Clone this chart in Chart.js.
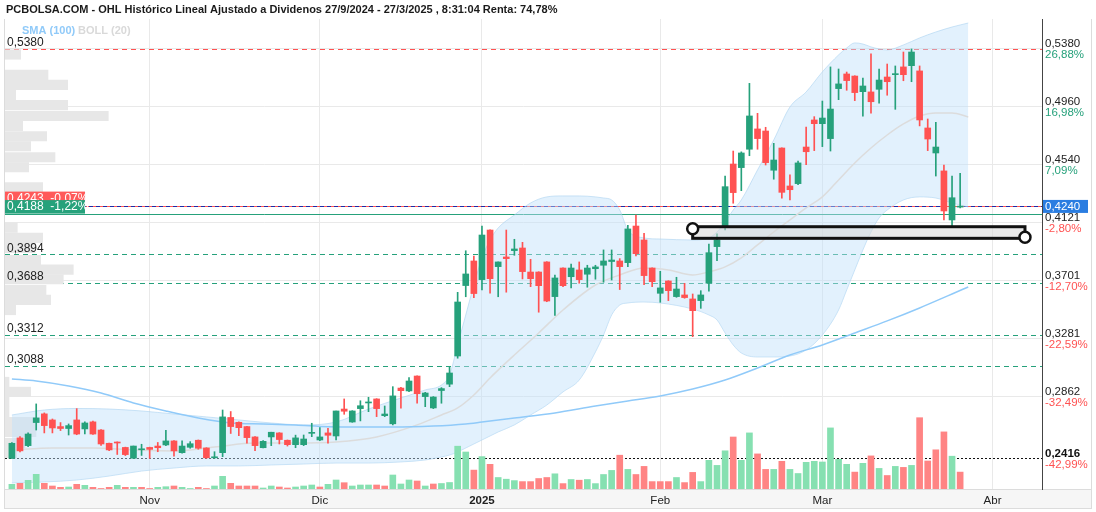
<!DOCTYPE html>
<html>
<head>
<meta charset="utf-8">
<title>OHL - PCBOLSA</title>
<script src="https://cdn.jsdelivr.net/npm/chart.js@4.4.1/dist/chart.umd.min.js"></script>
<style>
  html, body { margin: 0; padding: 0; background: #fff; }
  #wrap { width: 1096px; height: 512px; }
</style>
</head>
<body>
<div id="wrap"><canvas id="ohlChart" width="1096" height="512"></canvas></div>
<script>
// DATA (index 0 = primera sesion visible, 117 = 26/3/2025)
const opens = [0.2416,0.2564,0.2508,0.2675,0.2738,0.2694,0.2646,0.2632,0.2694,0.2629,
  0.2680,0.2621,0.2525,0.2532,0.2495,0.2417,0.2478,0.2495,0.2505,0.2513,
  0.2542,0.2457,0.2496,0.2547,0.2491,0.2420,0.2457,0.2712,0.2677,0.2646,
  0.2571,0.2493,0.2571,0.2600,0.2547,0.2515,0.2515,0.2597,0.2549,0.2600,
  0.2578,0.2773,0.2679,0.2776,0.2817,0.2846,0.2725,0.2666,0.2925,0.2904,
  0.3012,0.2863,0.2781,0.2907,0.2953,0.3157,0.3667,0.3845,0.3710,0.4069,
  0.3804,0.3874,0.3920,0.3939,0.3765,0.3765,0.3838,0.3587,0.3794,0.3731,
  0.3780,0.3749,0.3789,0.3814,0.3841,0.3845,0.3833,0.4098,0.3997,0.3794,
  0.3611,0.3700,0.3587,0.3599,0.3570,0.3558,0.3684,0.3949,0.4098,0.4547,
  0.4521,0.4654,0.4801,0.4786,0.4502,0.4663,0.4388,0.4405,0.4670,0.4866,
  0.4839,0.4731,0.5093,0.5199,0.5184,0.5071,0.5069,0.5088,0.5177,0.5194,
  0.5250,0.5259,0.5221,0.4808,0.4627,0.4497,0.4142,0.4235];
const highs = [0.2530,0.2573,0.2601,0.2810,0.2745,0.2701,0.2675,0.2665,0.2776,0.2680,
  0.2685,0.2625,0.2527,0.2535,0.2497,0.2505,0.2518,0.2497,0.2531,0.2619,
  0.2544,0.2542,0.2537,0.2549,0.2493,0.2464,0.2766,0.2755,0.2680,0.2648,
  0.2573,0.2544,0.2605,0.2602,0.2549,0.2584,0.2585,0.2670,0.2638,0.2634,
  0.2759,0.2846,0.2761,0.2833,0.2858,0.2848,0.2795,0.2935,0.2931,0.3000,
  0.3014,0.2894,0.2863,0.2928,0.3075,0.3618,0.3919,0.3881,0.4098,0.4071,
  0.3838,0.4069,0.4002,0.3980,0.3857,0.3767,0.3840,0.3742,0.3796,0.3823,
  0.3838,0.3814,0.3814,0.3925,0.3925,0.3862,0.4103,0.4178,0.4045,0.3796,
  0.3770,0.3702,0.3727,0.3683,0.3606,0.3630,0.3968,0.4041,0.4460,0.4641,
  0.4635,0.5131,0.4914,0.4813,0.4697,0.4665,0.4468,0.4569,0.4815,0.4890,
  0.5003,0.5250,0.5235,0.5213,0.5186,0.5170,0.5344,0.5235,0.5271,0.5257,
  0.5358,0.5380,0.5257,0.4873,0.4849,0.4540,0.4460,0.4479];
const lows = [0.2416,0.2462,0.2501,0.2621,0.2600,0.2600,0.2617,0.2585,0.2587,0.2592,
  0.2590,0.2510,0.2472,0.2444,0.2436,0.2416,0.2437,0.2416,0.2464,0.2508,
  0.2431,0.2453,0.2489,0.2482,0.2416,0.2416,0.2428,0.2596,0.2580,0.2525,
  0.2472,0.2491,0.2508,0.2520,0.2505,0.2493,0.2508,0.2573,0.2544,0.2525,
  0.2549,0.2735,0.2677,0.2687,0.2754,0.2718,0.2718,0.2658,0.2779,0.2898,
  0.2815,0.2790,0.2776,0.2815,0.2935,0.3141,0.3586,0.3580,0.3635,0.3611,
  0.3586,0.3619,0.3886,0.3715,0.3659,0.3474,0.3550,0.3450,0.3659,0.3650,
  0.3684,0.3655,0.3713,0.3691,0.3707,0.3638,0.3804,0.3881,0.3674,0.3659,
  0.3546,0.3558,0.3582,0.3575,0.3297,0.3502,0.3627,0.3847,0.4069,0.4263,
  0.4354,0.4607,0.4654,0.4540,0.4437,0.4299,0.4287,0.4398,0.4542,0.4644,
  0.4673,0.4641,0.5013,0.5081,0.5006,0.4893,0.4915,0.4987,0.5045,0.4943,
  0.5150,0.5143,0.4823,0.4644,0.4460,0.4142,0.4094,0.4230];
const closes = [0.2525,0.2470,0.2592,0.2709,0.2653,0.2636,0.2632,0.2653,0.2592,0.2672,
  0.2592,0.2520,0.2477,0.2527,0.2443,0.2505,0.2485,0.2481,0.2493,0.2542,
  0.2470,0.2505,0.2522,0.2489,0.2420,0.2424,0.2716,0.2646,0.2638,0.2566,
  0.2508,0.2539,0.2605,0.2552,0.2515,0.2564,0.2556,0.2602,0.2571,0.2583,
  0.2759,0.2757,0.2759,0.2797,0.2822,0.2776,0.2737,0.2868,0.2906,0.2976,
  0.2884,0.2889,0.2860,0.2921,0.3034,0.3548,0.3751,0.3609,0.4033,0.3717,
  0.3838,0.3862,0.3932,0.3768,0.3717,0.3666,0.3555,0.3722,0.3666,0.3794,
  0.3710,0.3794,0.3802,0.3845,0.3852,0.3804,0.4077,0.3898,0.3739,0.3695,
  0.3650,0.3630,0.3642,0.3580,0.3485,0.3599,0.3905,0.3997,0.4383,0.4340,
  0.4627,0.4895,0.4731,0.4557,0.4576,0.4342,0.4361,0.4555,0.4636,0.4839,
  0.4880,0.4945,0.5127,0.5151,0.5064,0.5112,0.4998,0.5155,0.5143,0.5197,
  0.5194,0.5358,0.4866,0.4728,0.4670,0.4207,0.4303,0.4240];
// volumen en miles de acciones
const volumes = [470,570,870,1470,570,300,170,200,470,370,
  170,50,170,370,170,170,170,50,170,230,
  300,170,50,170,50,300,1270,570,300,300,
  300,100,300,200,100,200,300,400,200,470,
  900,630,300,400,400,400,300,1400,500,900,
  800,300,500,550,650,4280,3700,1890,3240,2470,
  1150,980,840,740,740,1050,1150,1520,540,950,
  880,950,540,1450,1860,3380,1960,1450,2260,740,
  740,740,1150,640,1660,740,2870,2360,3820,5200,
  2870,5610,3510,1960,1960,2770,1960,1550,2670,2770,
  2700,6110,2970,2470,1690,2570,3310,2060,1350,2260,
  2160,2360,7130,2800,3920,5710,3280,1690];
const volUp = [1,0,1,1,0,0,0,1,0,1, 0,0,0,1,0,1,0,0,1,1,
  0,1,1,0,0,1,1,0,0,0, 0,1,1,0,0,1,1,1,0,1,
  1,0,1,1,1,0,0,1,1,1, 0,1,0,1,1,1,1,0,1,0,
  1,1,1,0,0,0,0,1,0,1, 0,1,1,1,1,0,1,0,0,0,
  0,0,1,0,0,1,1,1,1,0, 1,1,0,0,1,0,1,1,1,1,
  1,1,1,1,0,1,0,1,0,1, 0,1,0,0,0,0,1,0];

// BOLL (20)
const bandX = [0,4,8,12,16,20,24,28,32,36,40,44,48,51,53,54,55,56,57,58,59,60,62,64,66,68,70,72,73,74,75,76,78,80,84,86,87,88,89,90,92,94,96,98,100,102,103,104,105,106,107,108,110,112,114,116,118];
const bandUpper = [0.2730,0.2766,0.2777,0.2773,0.2759,0.2737,0.2716,0.2694,0.2672,0.2658,0.2679,0.2773,0.2853,0.2911,0.2947,0.3020,0.3237,0.3454,0.3671,0.3867,0.3997,0.4084,0.4178,0.4265,0.4309,0.4316,0.4316,0.4309,0.4301,0.4287,0.4214,0.4070,0.4012,0.4004,0.3997,0.4012,0.4055,0.4128,0.4214,0.4287,0.4504,0.4721,0.4960,0.5069,0.5214,0.5337,0.5387,0.5424,0.5416,0.5395,0.5380,0.5373,0.5409,0.5460,0.5503,0.5539,0.5568];
const bandLower = [0.2238,0.2245,0.2259,0.2288,0.2324,0.2346,0.2361,0.2361,0.2368,0.2375,0.2382,0.2382,0.2390,0.2404,0.2426,0.2440,0.2462,0.2491,0.2520,0.2549,0.2578,0.2607,0.2658,0.2730,0.2802,0.2897,0.2983,0.3186,0.3309,0.3454,0.3526,0.3541,0.3548,0.3541,0.3497,0.3454,0.3418,0.3324,0.3237,0.3179,0.3150,0.3150,0.3157,0.3201,0.3309,0.3490,0.3635,0.3780,0.3925,0.4055,0.4157,0.4214,0.4287,0.4309,0.4301,0.4265,0.4236];
const midX = [0,5,10,15,20,25,30,35,40,45,50,53,55,57,59,62,65,68,72,75,78,81,84,86,88,90,92,94,96,98,100,102,104,106,108,110,112,114,116,118];
const bandMid = [0.2477,0.2491,0.2491,0.2477,0.2469,0.2498,0.2527,0.2527,0.2535,0.2571,0.2658,0.2730,0.2781,0.2875,0.2998,0.3164,0.3324,0.3490,0.3671,0.3744,0.3794,0.3780,0.3744,0.3766,0.3802,0.3867,0.3961,0.4055,0.4142,0.4229,0.4309,0.4432,0.4555,0.4663,0.4757,0.4837,0.4895,0.4917,0.4917,0.4888];

// SMA (100)
const smaX = [0,3,7,11,15,19,23,27,31,35,39,43,47,52,56,58,62,67,72,76,80,84,88,92,96,100,104,108,112,116,118];
const sma100 = [0.2991,0.2976,0.2940,0.2889,0.2817,0.2759,0.2708,0.2672,0.2665,0.2658,0.2645,0.2643,0.2643,0.2650,0.2665,0.2679,0.2708,0.2745,0.2795,0.2831,0.2868,0.2918,0.2983,0.3070,0.3164,0.3237,0.3324,0.3411,0.3505,0.3606,0.3657];

// volumen por precio (perfil de la izquierda)
const profPrice = [0.5340,0.5192,0.5120,0.5047,0.4973,0.4895,0.4823,0.4748,0.4676,0.4596,0.4524,0.4379,0.4306,0.4233,0.4086,0.4012,0.3939,0.3852,0.3782,0.3713,0.3635,0.3563,0.3490,0.2969,0.2897,0.2824,0.2752,0.2679,0.2607,0.2527,0.2455];
const profVol = [157,430,627,107,627,1033,177,417,257,500,237,377,800,600,123,377,300,357,683,583,410,457,107,40,257,40,40,310,310,200,117];

// ejes y niveles
const monthIdx = [17, 38, 58, 80, 100, 121];
const monthLabels = ['Nov', 'Dic', '2025', 'Feb', 'Mar', 'Abr'];
const priceTicks = [0.5380, 0.4960, 0.4540, 0.4121, 0.3701, 0.3281, 0.2862];
const priceTickPct = ['26,88%', '16,98%', '7,09%', '-2,80%', '-12,70%', '-22,59%', '-32,49%'];
const minPrice = 0.2416, minPct = '-42,99%';
const maxLevel = 0.5380;
const levelPrices = [0.3894, 0.3688, 0.3312, 0.3088];
const lastPrice = 0.4240;
const prevClose = 0.4243, prevPct = '-0,07%';
const openPrice = 0.4188, openPct = '-1,22%';
const boxIdx = [84.0, 125.0];
const boxPrice = [0.4093, 0.4009];

const titleText = 'PCBOLSA.COM - OHL Histórico Lineal Ajustado a Dividenos 27/9/2024 - 27/3/2025 , 8:31:04 Renta: 74,78%';

const GREEN = '#26a17b';
const RED = '#ff5252';
const FONT = "'Liberation Sans', Arial, sans-serif";

const candleCol = opens.map((o, i) => closes[i] >= o ? GREEN : RED);

// OVERLAY PLUGIN
const overlay = {
    id: 'overlay',
    beforeDraw(chart) {
        const { ctx, chartArea: a } = chart;
        ctx.save();
        ctx.fillStyle = '#fff';
        ctx.fillRect(0, 0, chart.width, chart.height);
        // barra del eje x
        ctx.fillStyle = '#f6f6f6';
        ctx.fillRect(a.left, a.bottom, 1087, 19);
        ctx.strokeStyle = '#dcdcdc';
        ctx.lineWidth = 1;
        ctx.strokeRect(a.left - 0.5, a.bottom + 0.5, 1087, 19);
        ctx.beginPath();
        ctx.moveTo(a.left - 0.5, a.top);
        ctx.lineTo(a.left - 0.5, a.bottom);
        ctx.moveTo(1091.5, a.top);
        ctx.lineTo(1091.5, a.bottom);
        ctx.stroke();
        ctx.restore();
    },
    beforeDatasetsDraw(chart) {
        const { ctx, chartArea: a, scales } = chart;
        const py = v => scales.y.getPixelForValue(v);
        hline(ctx, a, py(maxLevel), RED, [5, 4]);
        levelPrices.forEach(p => hline(ctx, a, py(p), GREEN, [5, 4]));
        hline(ctx, a, py(minPrice), '#111', [2, 2]);
        hline(ctx, a, py(prevClose), RED, []);
        hline(ctx, a, py(lastPrice), '#1c2ca8', [4, 3]);
        hline(ctx, a, py(openPrice), GREEN, []);
    },
    afterDraw(chart) {
        const { ctx, chartArea: a, scales } = chart;
        const py = v => scales.y.getPixelForValue(v);
        const px = v => scales.x.getPixelForValue(v);
        ctx.save();
        ctx.textBaseline = 'middle';

        // titulo
        ctx.font = `bold 11px ${FONT}`;
        ctx.fillStyle = '#1a1a1a';
        ctx.fillText(titleText, 6, 10);

        // leyenda
        ctx.font = `bold 11px ${FONT}`;
        ctx.fillStyle = '#90caf9';
        ctx.fillText('SMA (100)', 22, 31);
        ctx.fillStyle = '#d9d9d9';
        ctx.fillText('BOLL (20)', 78, 31);

        // etiquetas de niveles a la izquierda
        ctx.font = `12px ${FONT}`;
        ctx.fillStyle = '#222';
        [maxLevel].concat(levelPrices).forEach(p => {
            ctx.fillText(fmt(p), a.left + 2, py(p) - 6);
        });

        // cajas de ultimo cierre / apertura
        const yg = py(openPrice);
        ctx.fillStyle = '#ff5a5a';
        ctx.fillRect(a.left, yg - 22, 80, 13.5);
        ctx.fillStyle = '#fff';
        ctx.fillText(fmt(prevClose) + '  ' + prevPct, a.left + 2, yg - 14.5);
        ctx.fillStyle = GREEN;
        ctx.fillRect(a.left, yg - 13.5, 80, 13.5);
        ctx.fillStyle = '#fff';
        ctx.fillText(fmt(openPrice) + '  ' + openPct, a.left + 2, yg - 6.5);

        // eje derecho: precio + porcentaje
        const rx = a.right + 3;
        ctx.font = `11.5px ${FONT}`;
        priceTicks.forEach((p, i) => {
            const y = py(p);
            ctx.fillStyle = '#222';
            ctx.fillText(fmt(p), rx, y - 5);
            ctx.fillStyle = priceTickPct[i].charAt(0) === '-' ? RED : GREEN;
            ctx.fillText(priceTickPct[i], rx, y + 6);
        });
        const ym = py(minPrice);
        ctx.font = `bold 11.5px ${FONT}`;
        ctx.fillStyle = '#111';
        ctx.fillText(fmt(minPrice), rx, ym - 5);
        ctx.font = `11.5px ${FONT}`;
        ctx.fillStyle = RED;
        ctx.fillText(minPct, rx, ym + 6);

        // ultimo precio
        const yl = py(lastPrice);
        ctx.fillStyle = '#2a7de1';
        ctx.fillRect(a.right + 1, yl - 6.5, 45, 13);
        ctx.fillStyle = '#fff';
        ctx.fillText(fmt(lastPrice), rx, yl + 0.5);

        // rectangulo dibujado
        const x0 = px(boxIdx[0]), x1 = px(boxIdx[1]);
        const y0 = py(boxPrice[0]), y1 = py(boxPrice[1]);
        ctx.fillStyle = 'rgba(215,215,215,0.55)';
        ctx.fillRect(x0, y0, x1 - x0, y1 - y0);
        ctx.strokeStyle = '#111';
        ctx.lineWidth = 3;
        ctx.strokeRect(x0, y0, x1 - x0, y1 - y0);
        [[x0, y0 + 2], [x1, y1 - 1]].forEach(c => {
            ctx.beginPath();
            ctx.arc(c[0], c[1], 5.5, 0, Math.PI * 2);
            ctx.fillStyle = '#fff';
            ctx.fill();
            ctx.lineWidth = 2.5;
            ctx.stroke();
        });
        ctx.restore();
    }
};

const logConfig = {
    type: 'bar',
    data: {
        datasets: [
            {
                label: 'Cuerpo',
                data: opens.map((o, i) => ({ x: i, y: [o, closes[i]] })),
                backgroundColor: candleCol,
                grouped: false, barPercentage: 1, categoryPercentage: 1,
                maxBarThickness: 6, minBarLength: 1,
                xAxisID: 'x', yAxisID: 'y', order: 0
            },
            {
                label: 'Mecha',
                data: lows.map((l, i) => ({ x: i, y: [l, highs[i]] })),
                backgroundColor: candleCol,
                grouped: false, barPercentage: 1, categoryPercentage: 1,
                maxBarThickness: 1,
                xAxisID: 'x', yAxisID: 'y', order: 1
            },
            {
                type: 'line',
                label: 'SMA (100)',
                data: smaX.map((x, i) => ({ x: x, y: sma100[i] })),
                borderColor: '#90caf9', borderWidth: 1.5,
                pointRadius: 0, cubicInterpolationMode: 'monotone',
                xAxisID: 'x', yAxisID: 'y', order: 2
            },
            {
                type: 'line',
                label: 'BOLL media',
                data: midX.map((x, i) => ({ x: x, y: bandMid[i] })),
                borderColor: '#dcdcdc', borderWidth: 1.5,
                pointRadius: 0, cubicInterpolationMode: 'monotone',
                xAxisID: 'x', yAxisID: 'y', order: 3
            },
            {
                label: 'Volumen',
                data: volumes.map((v, i) => ({ x: i, y: v })),
                backgroundColor: volUp.map(u => u ? '#86e0b1' : '#ff8484'),
                grouped: false, barPercentage: 1, categoryPercentage: 1,
                maxBarThickness: 6,
                xAxisID: 'x', yAxisID: 'yv', order: 4
            },
            {
                type: 'line',
                label: 'BOLL sup',
                data: bandX.map((x, i) => ({ x: x, y: bandUpper[i] })),
                borderColor: 'rgba(170,210,240,0.6)', borderWidth: 1,
                backgroundColor: 'rgba(190,224,250,0.45)',
                fill: '+1',
                pointRadius: 0, cubicInterpolationMode: 'monotone',
                xAxisID: 'x', yAxisID: 'y', order: 5
            },
            {
                type: 'line',
                label: 'BOLL inf',
                data: bandX.map((x, i) => ({ x: x, y: bandLower[i] })),
                borderColor: 'rgba(170,210,240,0.6)', borderWidth: 1,
                fill: false,
                pointRadius: 0, cubicInterpolationMode: 'monotone',
                xAxisID: 'x', yAxisID: 'y', order: 6
            },
            {
                label: 'Perfil',
                indexAxis: 'y',
                data: profPrice.map((p, i) => ({ x: profVol[i], y: p })),
                backgroundColor: '#e7e7e7',
                grouped: false, barPercentage: 1, categoryPercentage: 1,
                maxBarThickness: 9.5,
                xAxisID: 'xp', yAxisID: 'yp', order: 7
            }
        ]
    },
    options: {
        responsive: false,
        animation: false,
        devicePixelRatio: 1,
        layout: { padding: { top: 19, left: 5, right: 0, bottom: 0 } },
        plugins: { legend: { display: false }, tooltip: { enabled: false } },
        scales: {
            x: {
                type: 'linear', axis: 'x', position: 'bottom',
                min: -0.85, max: 127.1, offset: false,
                afterBuildTicks: s => { s.ticks = monthIdx.map(v => ({ value: v })); },
                afterFit: s => { s.height = 23; },
                grid: { color: '#e9e9e9', drawTicks: false, offset: false },
                border: { display: false },
                ticks: {
                    padding: 5, color: '#222', maxRotation: 0, autoSkip: false,
                    font: c => ({ family: FONT, size: 11.5, weight: (c.tick && c.tick.value === 58) ? 'bold' : 'normal' }),
                    callback: v => monthLabels[monthIdx.indexOf(v)]
                }
            },
            y: {
                type: 'linear', axis: 'y', position: 'right',
                min: 0.2194, max: 0.5597, beginAtZero: false, offset: false,
                afterBuildTicks: s => { s.ticks = priceTicks.map(v => ({ value: v })); },
                afterFit: s => { s.width = 54; },
                grid: { color: '#e9e9e9', drawTicks: false },
                border: { display: true, color: '#444', width: 1 },
                ticks: { display: false }
            },
            yp: {
                type: 'linear', axis: 'y', display: false,
                min: 0.2194, max: 0.5597, offset: false, grid: { offset: false }
            },
            yv: { type: 'linear', axis: 'y', display: false, min: 0, max: 47000 },
            xp: { type: 'linear', axis: 'x', display: false, min: 0, max: 10370, offset: false }
        }
    },
    plugins: [overlay]
};

const logChart = new Chart(document.getElementById('ohlChart'), logConfig);

// FUNCTIONS
function fmt(v) {
    return v.toFixed(4).replace('.', ',');
}
function hline(ctx, a, y, color, dash) {
    const yy = Math.round(y) + 0.5;
    ctx.save();
    ctx.strokeStyle = color;
    ctx.lineWidth = 1;
    ctx.setLineDash(dash);
    ctx.beginPath();
    ctx.moveTo(a.left, yy);
    ctx.lineTo(a.right, yy);
    ctx.stroke();
    ctx.restore();
}
</script>
</body>
</html>
